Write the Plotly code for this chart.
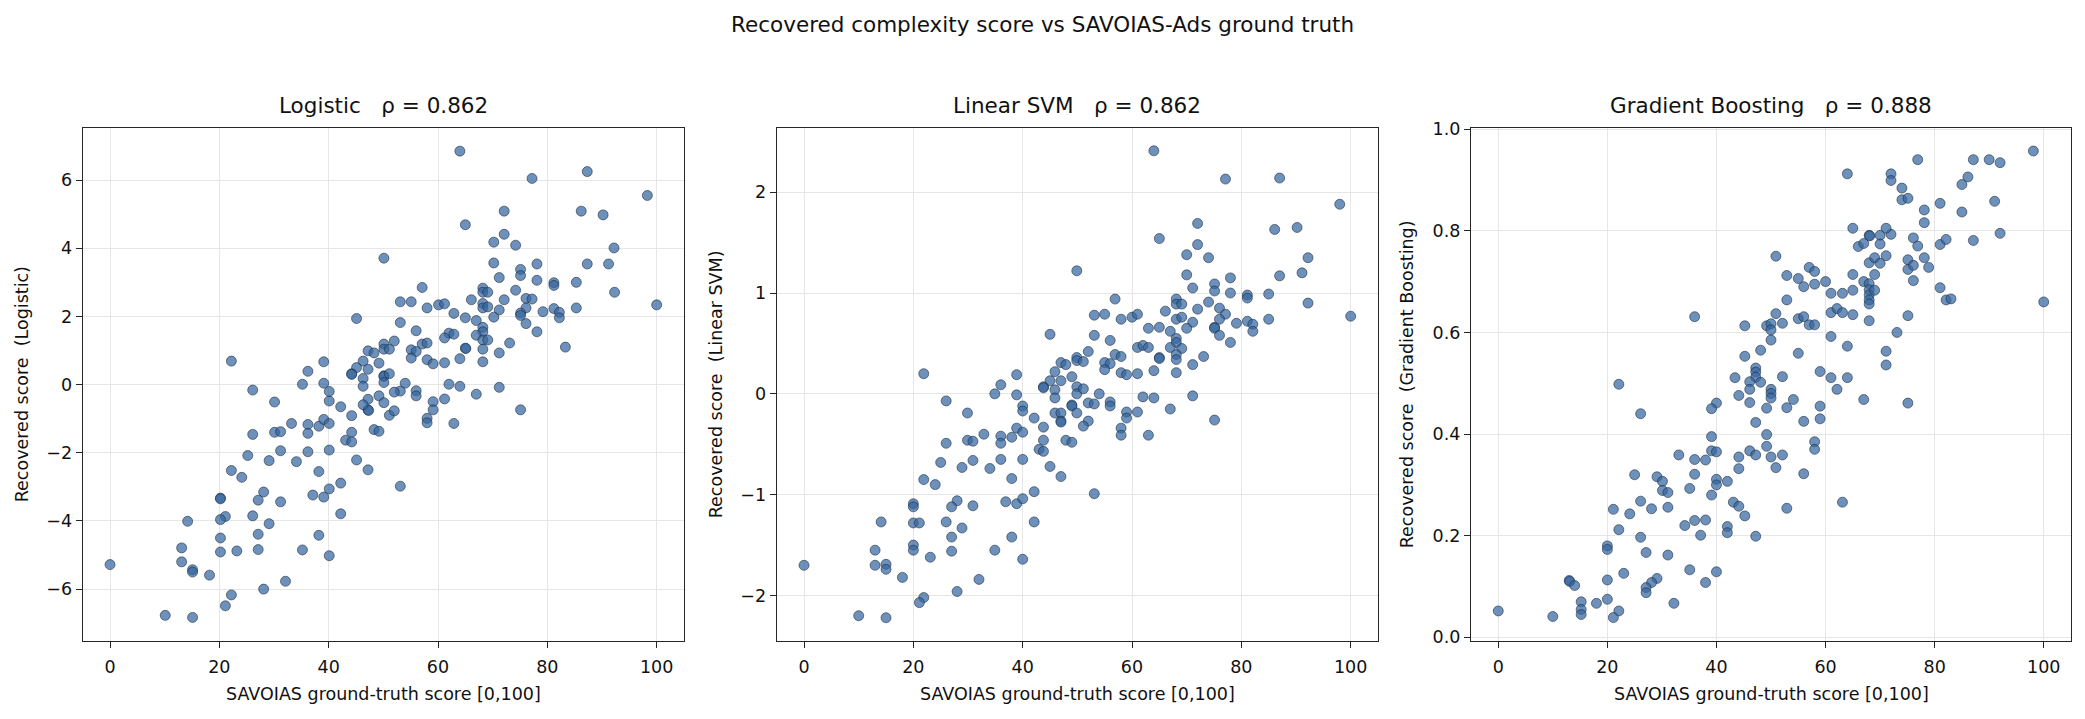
import plotly.graph_objects as go

# ---------------- data ----------------
x_logistic = [50.1,45.1,50.1,50.1,51.1,47.2,48.3,46.3,49.2,45.1,47.2,44.2,44.2,46.3,50.1,50.1,50.1,51.1,46.3,49.2,
              47.2,47.2,47.3,50.1,51.1,46.3,44.2,42.2,44.2,43.1,44.2,48.3,49.2,45.1,47.2,42.2,42.2,40.1,39.1,37.1,
              38.2,40.1,36.2,34.1,31.2,29.1,25.2,26.1,30.1,31.2,33.2,36.2,36.2,38.2,39.1,40.1,40.1,40.1,39.1,35.2,
              36.2,39.1,30.1,26.1,22.2,22.2,24.1,28.1,27.1,31.2,20.2,20.2,26.1,29.1,21.1,20.2,27.1,20.2,38.2,14.2,
              13.1,13.1,15.1,15.1,18.2,0.0,20.2,23.2,27.1,35.2,40.1,32.1,28.1,22.2,21.1,10.1,15.1,
              64.0,87.3,77.2,98.3,72.1,86.2,90.2,65.0,72.1,70.2,74.2,92.2,70.2,78.1,87.3,91.2,75.1,75.1,71.2,78.1,
              81.2,81.2,85.3,92.3,57.1,74.2,68.2,68.2,69.1,53.1,55.1,58.0,60.1,61.2,66.1,72.1,68.2,68.2,69.1,71.2,
              76.1,77.2,76.1,75.1,75.1,79.2,81.2,82.2,82.2,85.3,100.0,62.9,65.0,67.0,70.2,53.1,76.1,78.1,56.0,52.0,
              62.0,62.9,61.2,68.2,68.2,67.0,68.2,69.1,57.1,58.0,55.1,56.0,55.1,65.0,65.1,68.2,73.1,83.3,58.0,59.1,
              61.2,64.0,68.2,71.2,54.0,53.1,52.0,56.0,56.0,62.0,64.0,71.2,67.0,61.2,59.1,59.1,52.0,58.0,58.0,62.9,
              75.1,53.1]
y_logistic = [3.71,1.94,1.19,1.04,1.04,0.99,0.93,0.69,0.63,0.50,0.45,0.32,0.30,0.18,0.26,0.24,0.06,0.32,-0.05,-0.33,
              -0.43,-0.74,-0.76,-0.53,-0.90,-0.59,-0.91,-0.65,-1.40,-1.63,-1.68,-1.32,-1.37,-2.21,-2.50,-2.89,-3.79,-3.06,-3.30,-3.24,
              -2.55,-1.92,-1.97,-2.26,-1.94,-2.23,-2.08,-1.46,-1.40,-1.38,-1.14,-1.17,-1.43,-1.22,-1.02,-1.14,-0.48,-0.20,0.04,0.01,
              0.39,0.67,-0.51,-0.16,0.69,-2.52,-2.72,-3.15,-3.39,-3.44,-3.33,-3.35,-3.85,-4.08,-3.87,-3.96,-4.39,-4.50,-4.42,-4.01,
              -4.79,-5.20,-5.43,-5.50,-5.59,-5.28,-4.91,-4.88,-4.84,-4.85,-5.02,-5.77,-6.00,-6.17,-6.49,-6.77,-6.83,
              6.85,6.25,6.05,5.55,5.09,5.09,4.98,4.69,4.41,4.18,4.09,4.01,3.57,3.54,3.54,3.54,3.38,3.20,3.14,3.06,
              2.99,2.91,3.00,2.71,2.85,2.77,2.83,2.71,2.71,2.43,2.43,2.25,2.34,2.37,2.49,2.49,2.38,2.25,2.28,2.19,
              2.53,2.51,2.25,2.10,2.03,2.14,2.23,2.12,1.96,2.25,2.34,2.09,1.96,1.88,1.98,1.82,1.79,1.55,1.58,1.28,
              1.51,1.48,1.37,1.68,1.55,1.45,1.31,1.31,1.19,1.22,1.02,0.97,0.78,1.07,1.06,1.04,1.22,1.10,0.73,0.61,
              0.64,0.76,0.67,0.93,0.04,-0.19,-0.22,-0.18,-0.33,0.01,-0.05,-0.08,-0.28,-0.42,-0.50,-0.74,-0.77,-0.99,-1.12,-1.14,
              -0.74,-2.98]

x_svm = [49.9,45.0,47.0,47.9,45.9,49.9,49.9,49.0,45.0,47.0,43.8,43.8,45.9,49.9,49.9,45.9,49.0,49.0,49.9,45.9,
         47.0,47.0,47.0,43.8,42.1,40.0,40.0,38.9,36.0,34.9,38.9,38.9,40.0,38.0,36.0,36.0,32.9,29.9,30.9,29.9,
         26.0,21.9,26.0,43.8,43.0,43.8,47.9,49.0,45.0,47.0,42.1,40.0,36.0,38.0,34.0,30.9,28.9,25.0,21.9,24.0,
         20.0,20.0,28.0,27.0,30.9,36.9,38.9,40.0,42.1,14.1,20.0,21.1,26.0,28.9,27.0,38.0,13.0,20.0,20.0,27.0,
         34.9,23.1,40.0,0.0,13.0,15.0,15.0,18.0,32.0,28.0,21.9,21.1,10.0,15.0,
         64.0,77.1,87.0,98.0,72.0,86.1,90.2,65.0,72.0,70.0,74.0,92.2,70.0,91.1,87.0,78.0,75.1,75.1,71.1,78.0,
         81.1,81.1,85.0,92.2,56.9,68.1,68.1,69.1,66.1,72.0,74.0,76.0,77.1,76.0,75.1,75.1,76.0,78.0,79.1,81.1,
         82.1,82.1,85.0,100.0,53.1,55.0,58.0,60.0,61.0,63.0,65.0,68.1,69.1,71.1,70.0,67.0,53.1,56.0,68.1,68.1,
         67.0,69.1,61.0,62.0,63.0,52.0,51.1,56.9,58.0,55.0,56.0,55.0,65.0,65.0,68.1,68.1,73.1,71.1,64.0,68.1,
         58.0,59.0,61.0,51.1,54.0,52.0,53.1,56.0,56.0,62.0,64.0,71.1,67.0,61.0,59.0,59.0,52.0,51.1,58.0,58.0,
         63.0,75.1,53.1]
y_svm = [1.22,0.59,0.31,0.29,0.22,0.36,0.33,0.17,0.13,0.13,0.07,0.06,0.04,0.07,0.00,-0.04,-0.11,-0.12,-0.19,-0.19,
         -0.19,-0.27,-0.28,-0.33,-0.24,-0.12,-0.17,0.19,0.09,0.00,-0.01,-0.34,-0.38,-0.43,-0.42,-0.49,-0.40,-0.46,-0.47,-0.19,
         -0.07,0.20,-0.49,-0.46,-0.55,-0.57,-0.46,-0.48,-0.72,-0.82,-0.97,-0.65,-0.65,-0.84,-0.74,-0.66,-0.73,-0.68,-0.85,-0.90,
         -1.09,-1.12,-1.06,-1.12,-1.11,-1.07,-1.09,-1.04,-1.27,-1.27,-1.28,-1.28,-1.27,-1.33,-1.42,-1.42,-1.55,-1.50,-1.55,-1.56,
         -1.55,-1.62,-1.64,-1.70,-1.70,-1.69,-1.74,-1.82,-1.84,-1.96,-2.02,-2.07,-2.20,-2.22,
         2.41,2.13,2.14,1.88,1.69,1.63,1.65,1.54,1.48,1.38,1.35,1.35,1.18,1.20,1.17,1.15,1.09,1.02,1.05,1.00,
         0.98,0.95,0.99,0.90,0.94,0.94,0.89,0.89,0.82,0.84,0.91,0.85,0.79,0.74,0.66,0.65,0.58,0.51,0.70,0.72,
         0.69,0.62,0.74,0.77,0.78,0.79,0.74,0.76,0.79,0.65,0.66,0.74,0.76,0.71,0.65,0.62,0.58,0.53,0.55,0.51,
         0.46,0.45,0.46,0.48,0.46,0.42,0.32,0.39,0.37,0.31,0.30,0.24,0.36,0.35,0.39,0.34,0.37,0.29,0.23,0.21,
         0.21,0.19,0.20,0.05,0.00,-0.09,-0.10,-0.08,-0.12,-0.03,-0.04,-0.02,-0.15,-0.18,-0.18,-0.24,-0.27,-0.32,-0.34,-0.41,
         -0.41,-0.26,-0.99]

x_gb = [36.0,45.2,49.2,48.1,45.2,47.2,47.2,47.2,43.4,46.1,48.1,46.1,44.1,46.1,49.2,47.2,49.2,49.2,46.1,47.2,
        44.1,44.1,40.0,39.1,39.1,39.1,40.0,36.0,38.0,33.1,36.0,40.0,40.0,42.0,35.1,39.1,43.1,44.1,45.2,42.0,
        42.0,47.2,38.0,36.0,34.2,37.1,25.0,29.1,30.1,30.1,31.1,26.1,28.1,31.1,21.1,24.1,22.1,26.1,22.1,26.1,
        20.0,20.0,27.1,31.1,35.1,40.0,38.0,23.0,29.1,28.1,27.1,27.1,20.0,13.0,13.1,14.0,15.2,15.2,15.2,18.0,
        20.0,22.1,21.1,32.2,0.0,10.0,
        98.1,76.9,87.1,90.0,92.0,64.0,72.0,72.0,86.1,85.0,74.0,74.0,75.1,81.0,91.0,78.1,85.0,78.1,65.0,68.0,
        68.1,70.0,72.0,71.1,66.0,67.0,70.0,76.1,76.9,81.0,82.1,87.1,92.0,50.9,68.0,69.0,70.0,71.1,75.1,75.1,
        76.1,78.1,78.9,76.1,57.0,58.0,52.9,55.0,56.0,58.0,60.0,65.0,69.0,67.0,68.0,68.0,68.0,68.0,68.0,69.0,
        61.0,63.1,65.0,81.0,82.1,83.0,100.0,52.9,50.9,50.0,50.0,52.1,55.0,56.0,57.0,58.0,61.0,62.1,63.1,65.0,
        68.0,75.1,73.1,50.0,61.0,64.0,71.1,71.1,55.0,52.1,59.0,61.0,64.0,62.1,50.0,50.0,50.0,54.1,52.9,59.0,
        59.0,56.0,67.0,75.1,50.0,52.1,50.9,58.0,58.0,56.0,52.9,63.1]
y_gb = [0.631,0.613,0.613,0.565,0.553,0.530,0.522,0.512,0.511,0.503,0.502,0.488,0.476,0.462,0.451,0.423,0.399,0.376,0.367,0.359,
        0.355,0.332,0.461,0.450,0.395,0.367,0.365,0.350,0.349,0.359,0.321,0.311,0.300,0.307,0.293,0.280,0.266,0.258,0.239,0.218,
        0.206,0.199,0.231,0.230,0.220,0.201,0.320,0.316,0.307,0.289,0.285,0.268,0.253,0.256,0.252,0.243,0.498,0.440,0.212,0.197,
        0.180,0.173,0.167,0.162,0.133,0.129,0.108,0.126,0.116,0.108,0.098,0.088,0.113,0.112,0.110,0.102,0.070,0.055,0.045,0.067,
        0.075,0.052,0.039,0.067,0.052,0.041,
        0.957,0.940,0.940,0.940,0.934,0.912,0.912,0.899,0.906,0.891,0.884,0.861,0.864,0.854,0.858,0.841,0.837,0.816,0.805,0.791,
        0.790,0.791,0.793,0.805,0.769,0.775,0.774,0.786,0.770,0.773,0.783,0.781,0.795,0.750,0.737,0.747,0.736,0.751,0.743,0.724,
        0.732,0.747,0.728,0.702,0.728,0.720,0.712,0.706,0.690,0.695,0.700,0.714,0.714,0.700,0.696,0.684,0.674,0.664,0.656,0.683,
        0.677,0.677,0.683,0.688,0.664,0.666,0.660,0.664,0.637,0.617,0.605,0.618,0.627,0.631,0.615,0.615,0.639,0.647,0.639,0.635,
        0.623,0.633,0.600,0.585,0.592,0.573,0.563,0.536,0.559,0.513,0.523,0.511,0.511,0.488,0.488,0.480,0.471,0.468,0.452,0.455,
        0.430,0.425,0.468,0.461,0.355,0.359,0.334,0.385,0.370,0.322,0.254,0.266]

panel_titles = ["Logistic   \u03c1 = 0.862", "Linear SVM   \u03c1 = 0.862", "Gradient Boosting   \u03c1 = 0.888"]
y_titles = ["Recovered score  (Logistic)", "Recovered score  (Linear SVM)", "Recovered score  (Gradient Boosting)"]
suptitle = "Recovered complexity score vs SAVOIAS-Ads ground truth"
x_title = "SAVOIAS ground-truth score [0,100]"
x_ticks = [0, 20, 40, 60, 80, 100]
y_ticks_1 = [-6, -4, -2, 0, 2, 4, 6]
y_ticks_2 = [-2, -1, 0, 1, 2]
y_ticks_3 = [0.0, 0.2, 0.4, 0.6, 0.8, 1.0]

# ---------------- layout geometry ----------------
W, H = 2085, 719
FONT = "DejaVu Sans"
x_doms = [(82.7 / W, 684 / W), (776.7 / W, 1378 / W), (1471 / W, 2071 / W)]
y_dom = (1 - 645.5 / H, 1 - 122 / H)
y_ranges = [[-7.52, 7.54], [-2.45, 2.64], [-0.007, 1.003]]
y_ticks = [y_ticks_1, y_ticks_2, y_ticks_3]
y_fmt = ["", "", ".1f"]
y_title_x = [22, 716, 1407]

fig = go.Figure()
series = [(x_logistic, y_logistic), (x_svm, y_svm), (x_gb, y_gb)]
for i, (xs, ys) in enumerate(series):
    sfx = "" if i == 0 else str(i + 1)
    fig.add_trace(go.Scatter(
        x=xs, y=ys, mode="markers", xaxis="x" + sfx, yaxis="y" + sfx,
        marker=dict(size=10, color="rgba(53,103,159,0.72)",
                    line=dict(width=0.7, color="rgba(25,40,60,0.8)")),
        showlegend=False, hoverinfo="x+y"))

    axis_common = dict(showline=True, mirror=True, linecolor="#262626", linewidth=1.3,
                       ticks="outside", ticklen=6, tickwidth=1.2, tickcolor="#262626",
                       showgrid=True, gridcolor="#e6e6e6", gridwidth=1.2, zeroline=False,
                       tickfont=dict(family=FONT, size=17.5, color="#111"))
    fig.update_layout(**{
        "xaxis" + sfx: dict(domain=list(x_doms[i]), range=[-5, 105], tickvals=x_ticks,
                            anchor="y" + sfx, ticklabelstandoff=4, **axis_common),
        "yaxis" + sfx: dict(domain=list(y_dom), range=y_ranges[i], tickvals=y_ticks[i],
                            tickformat=y_fmt[i], anchor="x" + sfx, **axis_common),
    })

annotations = [dict(text=suptitle, x=0.5, y=1 - 17 / H, xref="paper", yref="paper",
                    showarrow=False, xanchor="center", yanchor="middle",
                    font=dict(family=FONT, size=21.5, color="#111"))]
for i in range(3):
    cx = (x_doms[i][0] + x_doms[i][1]) / 2
    annotations.append(dict(text=panel_titles[i].replace("   ", "\u00a0\u00a0\u00a0"), x=cx, y=1 - 99 / H,
                            xref="paper", yref="paper", showarrow=False, xanchor="center",
                            yanchor="middle", font=dict(family=FONT, size=21.5, color="#111")))
    annotations.append(dict(text=x_title, x=cx, y=1 - 700 / H, xref="paper", yref="paper",
                            showarrow=False, xanchor="center", yanchor="middle",
                            font=dict(family=FONT, size=17.5, color="#111")))
    annotations.append(dict(text=y_titles[i].replace("  ", "\u00a0\u00a0"), x=y_title_x[i] / W,
                            y=(y_dom[0] + y_dom[1]) / 2, xref="paper", yref="paper",
                            showarrow=False, xanchor="center", yanchor="middle", textangle=-90,
                            font=dict(family=FONT, size=17.5, color="#111")))

fig.update_layout(width=W, height=H, margin=dict(l=0, r=0, t=0, b=0),
                  paper_bgcolor="white", plot_bgcolor="white",
                  annotations=annotations, font=dict(family=FONT))

fig.write_html("out.html")
